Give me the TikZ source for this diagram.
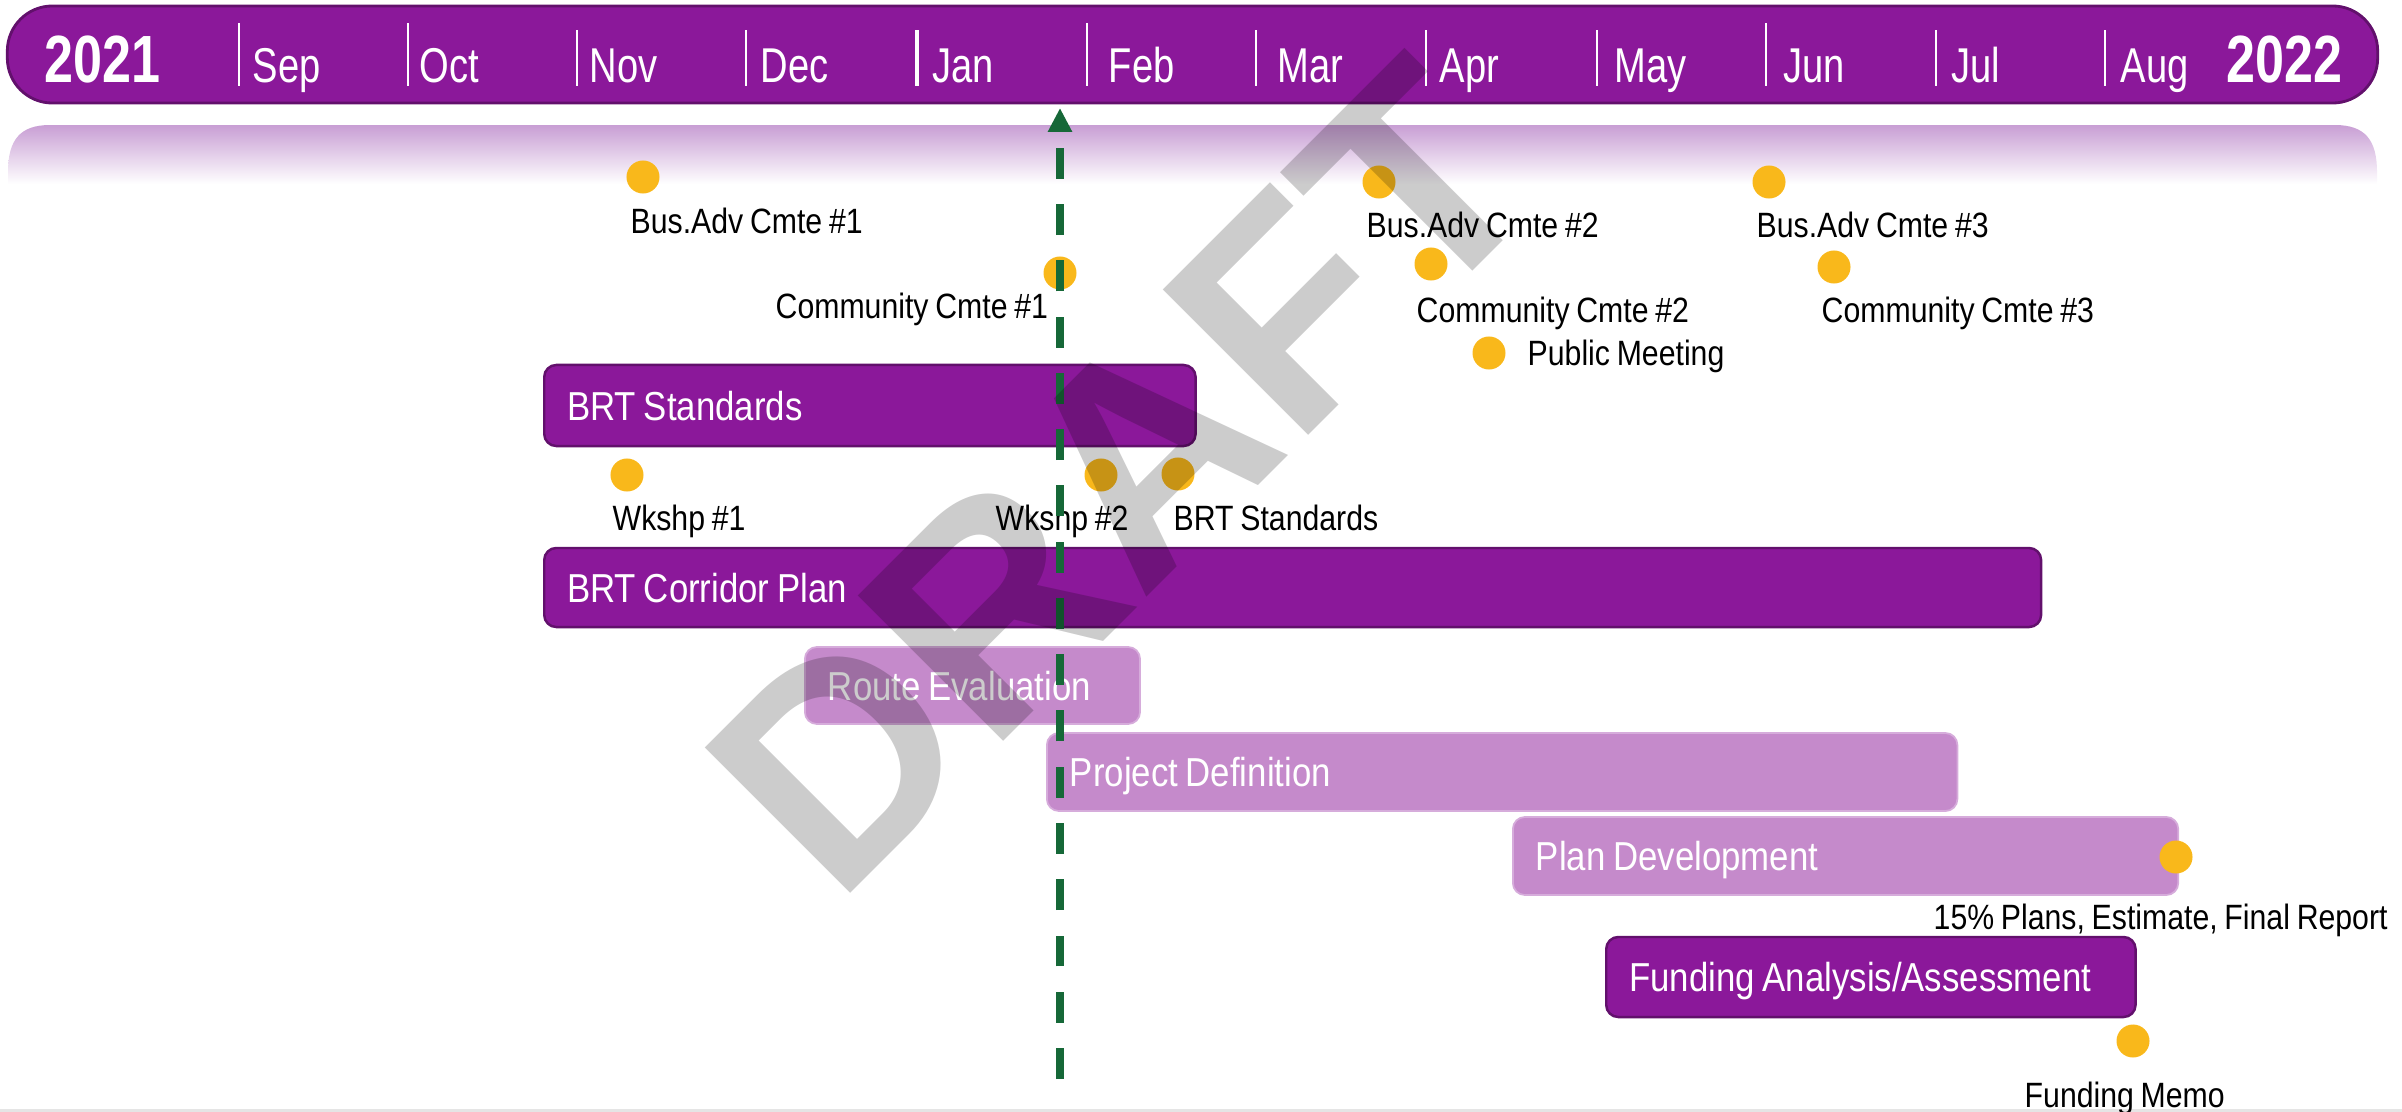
\documentclass[tikz,border=0pt]{standalone}
\usepackage{fontspec}
\setmainfont{Liberation Sans}
\newfontfamily\lblfont[FakeStretch=0.86,WordSpace=0.8]{Liberation Sans}
\newfontfamily\hdrfont[FakeStretch=0.78,WordSpace=0.8]{Liberation Sans}
\usetikzlibrary{positioning,arrows.meta}
\definecolor{tlPurple}{RGB}{139,24,154}
\definecolor{tlEdge}{RGB}{98,16,108}
\definecolor{tlLight}{RGB}{197,138,203}
\definecolor{tlLightEdge}{RGB}{214,172,219}
\definecolor{tlAmber}{RGB}{249,184,27}
\definecolor{tlGreen}{RGB}{22,104,56}
\definecolor{tlBand}{RGB}{200,158,212}
\tikzset{
    hdrbar/.style={rectangle, rounded corners=0.45cm, fill=tlPurple, draw=tlEdge,
                   line width=0.8pt, inner sep=0pt},
    hdrMonth/.style={font=\hdrfont\fontsize{13.9}{16}\selectfont, text=white,
                     anchor=base west, inner sep=0pt},
    hdrYear/.style={font=\hdrfont\bfseries\fontsize{19}{22}\selectfont, text=white,
                    anchor=base west, inner sep=0pt},
    monthsep/.style={white, line width=0.5pt},
    taskbar/.style={rectangle, rounded corners=0.12cm, anchor=west, inner xsep=0.23cm,
                    inner ysep=0pt, align=flush left, text height=0.29cm, text depth=0cm,
                    font=\lblfont\fontsize{11.5}{13}\selectfont, text=white},
    darkbar/.style={taskbar, fill=tlPurple, draw=tlEdge, line width=0.7pt},
    lightbar/.style={taskbar, fill=tlLight, draw=tlLightEdge, line width=0.5pt},
    msdot/.style={circle, fill=tlAmber, inner sep=0pt, minimum size=0.33cm},
    mslabel/.style={font=\lblfont\fontsize{10}{12}\selectfont, anchor=base west, inner sep=0pt},
    nowline/.style={tlGreen, line width=2pt, dash pattern=on 8.8pt off 7.2pt,
                    -{Triangle[width=6.5pt,length=6.8pt]}},
    draftmark/.style={font=\bfseries\fontsize{85}{90}\selectfont, text=black,
                      text opacity=0.2, inner sep=0pt, rotate=45}
}

\begin{document}
\begin{tikzpicture}[x=0.01cm, y=-0.01cm]
  \useasboundingbox (0,0) rectangle (2402,1112);
  \fill[gray!20] (0,1109) rectangle (2402,1112);

  % header
  \shade[top color=tlBand, bottom color=white]
    (8,184) -- (8,172) .. controls (8,140) and (20,125) .. (50,125) -- (2335,125)
    .. controls (2365,125) and (2377,140) .. (2377,172) -- (2377,184) -- cycle;
  \node[hdrbar, minimum width=23.69cm, minimum height=0.97cm] (hdr) at (1192.5,54.5) {};
  \foreach \x/\t in {239/23,408/23,577/30,746/30,1087/23,1256/30,1426/30,1597/30,1766/23,1936/30,2105/30}
    \draw[monthsep] (\x,\t) -- (\x,86);
  \draw[monthsep, line width=1.3pt] (917,30) -- (917,86);

  \node[hdrYear] (y2021) at (44,83) {2021};
  \node[hdrMonth] (mSep) at (252,83) {Sep};
  \node[hdrMonth] (mOct) at (419,83) {Oct};
  \node[hdrMonth] (mNov) at (589,83) {Nov};
  \node[hdrMonth] (mDec) at (760,83) {Dec};
  \node[hdrMonth] (mJan) at (932,83) {Jan};
  \node[hdrMonth] (mFeb) at (1108,83) {Feb};
  \node[hdrMonth] (mMar) at (1277,83) {Mar};
  \node[hdrMonth] (mApr) at (1439,83) {Apr};
  \node[hdrMonth] (mMay) at (1614,83) {May};
  \node[hdrMonth] (mJun) at (1783,83) {Jun};
  \node[hdrMonth] (mJul) at (1951,83) {Jul};
  \node[hdrMonth] (mAug) at (2120,83) {Aug};
  \node[hdrYear] (y2022) at (2226,83) {2022};

  % meetings
  \node[msdot] (bac1) at (643,177) {};
  \node[mslabel] (bac1Txt) at (630,233) {Bus.Adv Cmte \#1};
  \node[msdot] (cc1) at (1060,273) {};
  \node[mslabel] (cc1Txt) at (775,318) {Community Cmte \#1};
  \node[msdot] (bac2) at (1379,182) {};
  \node[mslabel] (bac2Txt) at (1366,237) {Bus.Adv Cmte \#2};
  \node[msdot] (bac3) at (1769,182) {};
  \node[mslabel] (bac3Txt) at (1756,237) {Bus.Adv Cmte \#3};
  \node[msdot] (cc2) at (1431,264) {};
  \node[mslabel] (cc2Txt) at (1416,322) {Community Cmte \#2};
  \node[msdot] (cc3) at (1834,267) {};
  \node[mslabel] (cc3Txt) at (1821,322) {Community Cmte \#3};
  \node[msdot] (pub) at (1489,353) {};
  \node[mslabel] (pubTxt) at (1527,365) {Public Meeting};

  % tasks
  \node[darkbar, minimum width=6.51cm, minimum height=0.81cm, text width=6.05cm] (brtStd) at (543,405.5) {BRT Standards};
  \node[msdot] (wk1) at (627,475) {};
  \node[mslabel] (wk1Txt) at (612,530) {Wkshp \#1};
  \node[msdot] (wk2) at (1101,475) {};
  \node[mslabel] (wk2Txt) at (995,530) {Wkshp \#2};
  \node[msdot] (stdDone) at (1178,474) {};
  \node[mslabel] (stdDoneTxt) at (1173,530) {BRT Standards};

  \node[darkbar, minimum width=14.96cm, minimum height=0.79cm, text width=14.5cm] (brtPlan) at (543,587.5) {BRT Corridor Plan};
  \node[lightbar, minimum width=3.35cm, minimum height=0.77cm, text width=2.89cm] (routeEval) at (804,685.5) {Route Evaluation};
  \node[lightbar, minimum width=9.10cm, minimum height=0.78cm, text width=8.64cm] (projDef) at (1046,772) {Project Definition};
  \node[lightbar, minimum width=6.65cm, minimum height=0.78cm, text width=6.19cm] (planDev) at (1512,856) {Plan Development};
  \node[msdot] (planDone) at (2176,857) {};
  \node[mslabel] (planDoneTxt) at (1933,929) {15\% Plans, Estimate, Final Report};
  \node[darkbar, minimum width=5.29cm, minimum height=0.80cm, text width=4.83cm] (fundAn) at (1605,977) {Funding Analysis/Assessment};
  \node[msdot] (memo) at (2133,1041) {};
  \node[mslabel] (memoTxt) at (2024,1107) {Funding Memo};

  % today marker
  \coordinate (nowTop) at (1060,108);
  \coordinate (nowBot) at (1060,1079);
  \draw[nowline] (nowBot) -- (nowTop);

  \node[draftmark] (draft) at (1122,477) {DRAFT};
\end{tikzpicture}
\end{document}
